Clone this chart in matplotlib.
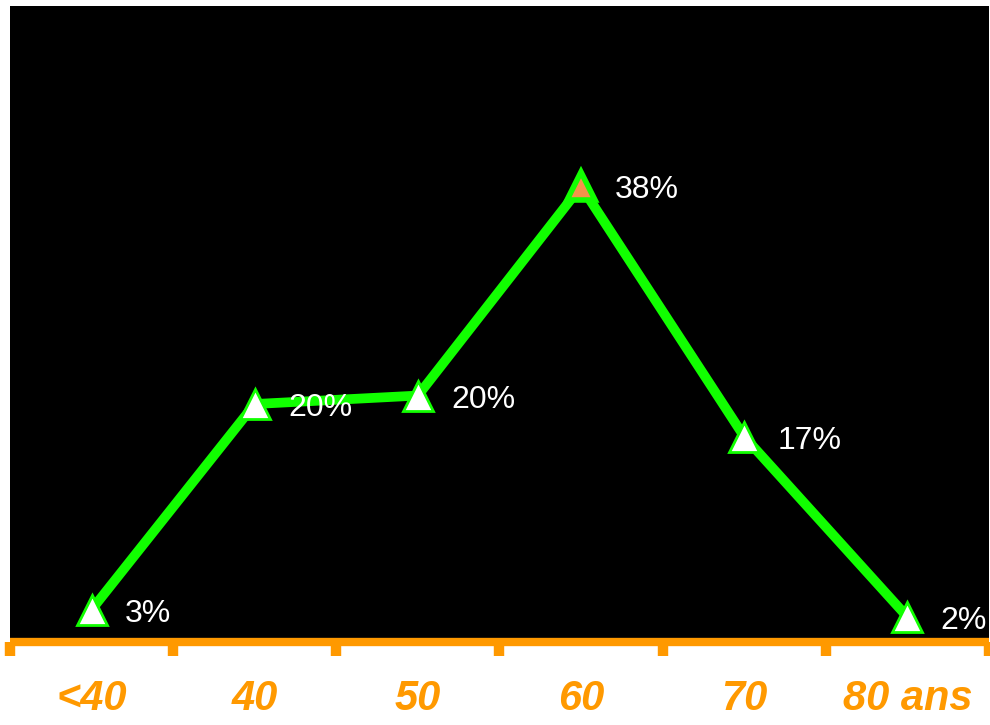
import matplotlib.pyplot as plt

# tranches d'age et pourcentages
categories = ["<40", "40", "50", "60", "70", "80 ans"]
values = [3.0, 20.0, 20.7, 38.0, 17.3, 2.4]
labels = ["3%", "20%", "20%", "38%", "17%", "2%"]
peak = 3  # index of the highlighted point

ORANGE = "#FF9900"
GREEN = "#11FF00"

fig = plt.figure(figsize=(9.9, 7.25), dpi=100)
ax = fig.add_axes([10 / 990, 1 - 642 / 725, 979 / 990, 636 / 725])
ax.set_facecolor("black")

x = list(range(len(categories)))

ax.plot(x, values, color=GREEN, lw=7, solid_joinstyle="round", zorder=3)
others = [i for i in x if i != peak]
ax.plot(others, [values[i] for i in others], marker="^", ms=22, mfc="white",
        mec=GREEN, mew=2, ls="none", zorder=4)
# highlighted point
ax.plot(x[peak], values[peak], marker="^", ms=20, mfc="#F4934A", mec=GREEN,
        mew=4, ls="none", zorder=4)

for xi, v, lab in zip(x, values, labels):
    ax.annotate(lab, (xi, v), xytext=(24, -3), textcoords="offset points",
                ha="left", va="center", color="white", fontsize=23,
                family="Liberation Sans", zorder=5, annotation_clip=False)

ax.set_xlim(-0.5, len(categories) - 0.5)
ax.set_ylim(0.33, 52.9)

# axis styling
for s in ["top", "right", "left"]:
    ax.spines[s].set_visible(False)
ax.spines["bottom"].set_color(ORANGE)
ax.spines["bottom"].set_linewidth(6)
ax.spines["bottom"].set_capstyle("butt")

ax.set_xticks([i - 0.5 for i in range(len(categories) + 1)])
ax.set_xticklabels([])
ax.tick_params(axis="x", direction="out", length=10, width=7.5, color=ORANGE)
ax.set_xticks(x, minor=True)
ax.set_xticklabels(categories, minor=True, color=ORANGE, fontsize=30,
                   fontweight="bold", fontstyle="italic",
                   family="Liberation Sans")
ax.tick_params(axis="x", which="minor", length=0, pad=27)
ax.set_yticks([])

fig.savefig("out.png", dpi=100, facecolor="white")
